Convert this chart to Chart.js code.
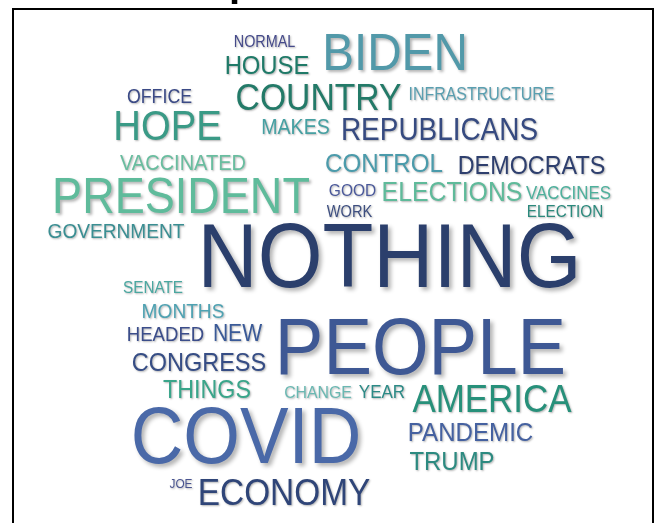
<!DOCTYPE html>
<html>
<head>
<meta charset="utf-8">
<script src="https://cdn.jsdelivr.net/npm/chart.js@4.4.1/dist/chart.umd.min.js"></script>
<style>
  html, body { margin: 0; padding: 0; background: #fff; }
  #wrap { width: 658px; height: 523px; }
</style>
</head>
<body>
<div id="wrap"><canvas id="cloud" width="658" height="523"></canvas></div>
<script>
// word cloud data: word, weight (font px) and layout position (x, y on the 658 x 523 layout grid)
const words = ['NORMAL', 'BIDEN', 'HOUSE', 'OFFICE', 'COUNTRY', 'INFRASTRUCTURE', 'HOPE', 'MAKES',
  'REPUBLICANS', 'VACCINATED', 'CONTROL', 'DEMOCRATS', 'PRESIDENT', 'GOOD', 'ELECTIONS', 'VACCINES',
  'WORK', 'ELECTION', 'GOVERNMENT', 'NOTHING', 'SENATE', 'MONTHS', 'HEADED', 'NEW', 'PEOPLE',
  'CONGRESS', 'THINGS', 'CHANGE', 'YEAR', 'AMERICA', 'COVID', 'PANDEMIC', 'TRUMP', 'JOE', 'ECONOMY'];
const weights = [15.8, 52.4, 26.2, 19.5, 37, 17.5, 42, 21.5,
  30.7, 22, 26.5, 25.7, 49.5, 17, 27.3, 18.5,
  16, 16.8, 21, 91.5, 16.8, 21, 20.4, 23.2, 80,
  25.8, 25.6, 17.4, 18.7, 38.4, 80, 26.5, 26.3, 13, 36.7];
const layoutX = [264.5, 395, 267, 159.5, 318.5, 481.5, 167.5, 295.5,
  439.5, 183, 384, 531.5, 181, 352.5, 452, 568.5,
  349.5, 565, 116, 389.5, 153, 183, 165.5, 237.5, 420.5,
  199, 207, 318, 382, 492, 246, 470.5, 452, 181, 284];
const layoutY = [41.5, 51, 64.5, 96, 96.5, 93.5, 125, 126,
  129, 162, 162.5, 165, 195, 189.5, 191, 192,
  211, 211, 230.5, 254.5, 287, 310.5, 333.5, 333, 345,
  362, 389, 392, 391.5, 398.5, 434.5, 432, 460.5, 483.5, 492];

const wordColors = ['#454a8a', '#5299a9', '#1f7a68', '#3b4a86', '#237a68', '#5a9fb0', '#3a9a86', '#46a0a2',
  '#364a80', '#69bd9f', '#4b9bab', '#2e3f6e', '#5fbb9b', '#4a589a', '#5fba9a', '#4eb09c',
  '#3e4f80', '#2b897c', '#3a8e92', '#2b3f6c', '#4aa7a0', '#4fa2b2', '#3b4d8a', '#3a5a98', '#3e5894',
  '#364d85', '#3aa58a', '#6ab8b2', '#2c8a86', '#27907a', '#4a69a8', '#4561a0', '#2c8a80', '#4a5590', '#2f4578'];

const CAP = 0.716;     // cap height of Liberation Sans, in em
const SQUEEZE = 0.91;  // words in the reference are a little narrower than Arial

const wordCloudPlugin = {
  id: 'wordCloud',
  beforeDatasetsDraw(chart) {
    const ctx = chart.ctx;
    ctx.save();
    // clipped title (only the descender shows)
    ctx.fillStyle = '#000';
    ctx.font = 'bold 40px "Liberation Sans", Arial, sans-serif';
    ctx.textAlign = 'left';
    ctx.textBaseline = 'alphabetic';
    ctx.fillText('p', 229, -4);
    // frame
    ctx.strokeStyle = '#000';
    ctx.lineWidth = 2;
    ctx.strokeRect(13, 9, 640, 600);
    ctx.restore();
  },
  afterDatasetsDraw(chart) {
    const ctx = chart.ctx;
    const meta = chart.getDatasetMeta(0);
    meta.data.forEach((pt, i) => {
      const size = weights[i];
      const off = Math.max(1, Math.round(size / 30));
      ctx.save();
      ctx.font = `${size}px "Liberation Sans", Arial, sans-serif`;
      ctx.textAlign = 'center';
      ctx.textBaseline = 'alphabetic';
      ctx.translate(pt.x, pt.y + size * CAP / 2);
      ctx.scale(SQUEEZE, 1);
      ctx.shadowColor = 'rgba(0,0,0,0.3)';
      ctx.shadowOffsetX = off;
      ctx.shadowOffsetY = off;
      ctx.shadowBlur = off + 1;
      ctx.fillStyle = wordColors[i];
      ctx.fillText(words[i], 0, 0);
      ctx.restore();
    });
  }
};

new Chart(document.getElementById('cloud'), {
  type: 'scatter',
  data: {
    datasets: [{
      label: 'words',
      data: words.map((w, i) => ({ x: layoutX[i], y: layoutY[i] })),
      pointRadius: 0,
      pointHoverRadius: 0
    }]
  },
  options: {
    responsive: false,
    animation: false,
    devicePixelRatio: 1,
    layout: { padding: 0 },
    plugins: { legend: { display: false }, tooltip: { enabled: false }, title: { display: false } },
    scales: {
      x: { type: 'linear', min: 0, max: 658, display: false },
      y: { type: 'linear', min: 0, max: 523, reverse: true, display: false }
    }
  },
  plugins: [wordCloudPlugin]
});
</script>
</body>
</html>
